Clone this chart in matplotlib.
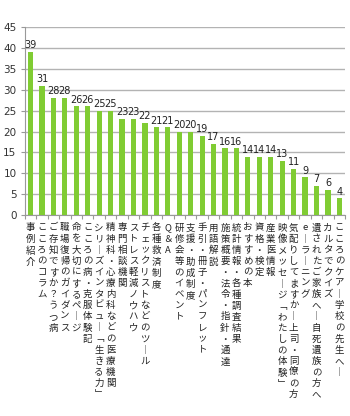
import matplotlib
matplotlib.use('Agg')
import matplotlib.pyplot as plt

plt.rcParams['font.family'] = ['Noto Sans CJK JP', 'DejaVu Sans']

categories = [
    '事例紹介', 'こころのコラム', 'ご存知ですか？うつ病', '職場復帰のガイダンス',
    '命を大切にするページ', 'こころの病・克服体験記', 'シリーズインタビュー「生きる力」',
    '精神科・心療内科などの医療機関', '専門相談機関', 'ストレス軽減ノウハウ',
    'チェックリストなどのツール', '各種救済制度', 'Q&A', '研修会等のイベント',
    '支援・助成制度', '手引・冊子・パンフレット', '用語解説', '施策概要・法令・指針・通達',
    '統計情報・各種調査結果', 'おすすめの本', '資格・検定', '産業医情報',
    '映像メッセージ「わたしの体験」', '気配りしてますか－上司・同僚の方', 'eーラーニング',
    '遺されたご家族へ－自死遺族の方へ', 'カルタでクイズ', 'こころのケアー学校の先生へー',
]
values = [39, 31, 28, 28, 26, 26, 25, 25, 23, 23, 22, 21, 21, 20, 20, 19, 17, 16, 16,
          14, 14, 14, 13, 11, 9, 7, 6, 4]
yticks = list(range(0, 50, 5))

# vertical presentation forms for stacked labels
vert = {'ー': '︱', '－': '︱', '「': '﹁', '」': '﹂', '&': '＆'}


def vertical(s):
    return '\n'.join(vert.get(c, c) for c in s)


fig = plt.figure(figsize=(3.5, 4.16), dpi=100)
ax = fig.add_axes([0.071, 0.483, 0.915, 0.452])

x = list(range(len(values)))
ax.bar(x, values, width=0.45, color='#80cc33', zorder=3)
for xi, v in zip(x, values):
    ax.text(xi, v + 0.4, str(v), ha='center', va='bottom', fontsize=7,
            color='#222222', family='DejaVu Sans', zorder=4)

ax.set_xlim(-0.5, len(values) - 0.5)
ax.set_ylim(0, 45)
ax.set_yticks(yticks)
ax.set_yticklabels([str(t) for t in yticks], family='DejaVu Sans', fontsize=7.5, color='#333333')
ax.yaxis.grid(True, color='#b3b3b3', linewidth=1, zorder=0)

ax.set_xticks([i - 0.5 for i in range(len(values) + 1)])
ax.set_xticklabels([])
ax.tick_params(axis='x', length=3, color='#999999')
ax.tick_params(axis='y', length=3, color='#999999', pad=3)

for xi, c in zip(x, categories):
    ax.text(xi, -2.0, vertical(c), ha='center', va='top', fontsize=6.8,
            linespacing=1.3, color='#222222')

for s in ['top', 'right']:
    ax.spines[s].set_visible(False)
ax.spines['left'].set_color('#999999')
ax.spines['bottom'].set_color('#999999')

fig.savefig('out.png', dpi=100)
